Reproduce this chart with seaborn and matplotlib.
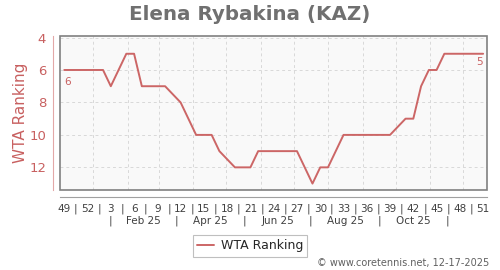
import datetime as dt
import matplotlib
matplotlib.use("Agg")
import matplotlib.pyplot as plt
from matplotlib.patches import Rectangle
import seaborn as sns
import pandas as pd

# ---- data ----
week_index = [0, 1, 2, 3, 4, 5, 6, 8, 9, 10, 11, 12, 13, 15, 17, 18, 19, 20, 22, 23, 24,
              25, 26, 27, 28, 29, 30, 32, 33, 34, 36, 37, 38, 39, 40, 41, 42, 44, 45,
              46, 47, 48, 49, 50, 51, 52, 53, 54]
ranking = [6, 6, 6, 6, 6, 6, 7, 5, 5, 7, 7, 7, 7, 8, 10, 10, 10, 11, 12, 12, 12,
           11, 11, 11, 11, 11, 11, 13, 12, 12, 10, 10, 10, 10, 10, 10, 10, 9, 9,
           7, 6, 6, 5, 5, 5, 5, 5, 5]
week_labels = ["49", "52", "3", "6", "9", "12", "15", "18", "21", "24", "27", "30",
               "33", "36", "39", "42", "45", "48", "51"]
month_labels = ["Feb 25", "Apr 25", "Jun 25", "Aug 25", "Oct 25"]
y_ticks = [4, 6, 8, 10, 12]

df = pd.DataFrame({"week": week_index, "rank": ranking})

RED = "#c86060"
LINE = "#cc6666"
GRAY = "#707070"

sns.set_style("white")
plt.rcParams["font.family"] = ["DejaVu Sans"]

fig = plt.figure(figsize=(5, 2.7), dpi=100)
ax = fig.add_axes([0.12, 0.296, 0.854, 0.571])
ax.set_facecolor("#f9f9f9")

sns.lineplot(data=df, x="week", y="rank", ax=ax, color=LINE, lw=1.4,
             label="WTA Ranking", legend=False, zorder=3)

ax.set_xlim(-0.55, 54.5)
ax.set_ylim(13.4, 3.9)

# grid
for y in y_ticks:
    ax.axhline(y, color="#d9d9d9", lw=0.7, ls=(0, (3, 3)), zorder=1)
origin = dt.date(2024, 12, 2)
month_starts = [dt.date(2025, m, 1) for m in range(1, 13)]
for d in month_starts:
    xpos = (d - origin).days / 7 - 0.55
    ax.axvline(xpos, color="#d9d9d9", lw=0.7, ls=(0, (3, 3)), zorder=1)

# spines / frame
for s in ["top", "right"]:
    ax.spines[s].set_visible(False)
ax.spines["left"].set_position(("outward", 5))
ax.spines["left"].set_color("#e3a8a8")
ax.spines["bottom"].set_position(("outward", 5))
ax.spines["bottom"].set_color("#a0a0a0")
ax.add_patch(Rectangle((0, 0), 1, 1, transform=ax.transAxes, fill=False,
                       edgecolor="#808080", lw=1.2, clip_on=False, zorder=4))

# y axis
ax.set_yticks(y_ticks)
ax.set_yticklabels([str(v) for v in y_ticks])
ax.tick_params(axis="y", colors="#e3a8a8", labelcolor=RED, labelsize=9.5,
               length=3, width=0.8, pad=2)
ax.set_ylabel("WTA Ranking", color=RED, fontsize=11, labelpad=1)
ax.set_xlabel("")

# x axis
major = list(range(0, 55, 3))
ax.set_xticks(major)
ax.set_xticklabels(week_labels)
minor = [m + 1.5 for m in major[:-1]]
ax.set_xticks(minor, minor=True)
ax.set_xticklabels(["|"] * len(minor), minor=True)
ax.tick_params(axis="x", which="both", length=0, labelsize=7.5,
               labelcolor="#404040", pad=5)

# month row
seps = [5.9, 14.4, 23.2, 31.8, 40.6, 49.4]
trans = ax.get_xaxis_transform()
for s in seps:
    ax.text(s, -0.20, "|", transform=trans, ha="center", va="center",
            fontsize=7.5, color="#404040")
for i, lab in enumerate(month_labels):
    ax.text((seps[i] + seps[i + 1]) / 2, -0.20, lab, transform=trans,
            ha="center", va="center", fontsize=7.5, color="#404040")

# end annotations
ax.annotate(str(ranking[0]), (week_index[0], ranking[0]), xytext=(0, -11),
            textcoords="offset points", ha="left", fontsize=7.5, color=RED)
ax.annotate(str(ranking[-1]), (week_index[-1], ranking[-1]), xytext=(0, -8),
            textcoords="offset points", ha="right", fontsize=7.5, color=RED)

# title
fig.text(0.5, 0.948, "Elena Rybakina (KAZ)", ha="center", va="center",
         fontsize=14.3, fontweight="bold", color=GRAY)

# legend
handles, labels = ax.get_legend_handles_labels()
leg = fig.legend(handles, labels, loc="center", bbox_to_anchor=(0.5, 0.089),
                 fontsize=9, frameon=True, fancybox=False, handlelength=1.4,
                 handletextpad=0.5, borderpad=0.35)
leg.get_frame().set_edgecolor("#b0b0b0")
leg.get_frame().set_linewidth(0.8)

fig.text(0.978, 0.026, "\u00a9 www.coretennis.net, 12-17-2025", ha="right",
         va="center", fontsize=7, color="#606060")

fig.savefig("out.png", dpi=100)
